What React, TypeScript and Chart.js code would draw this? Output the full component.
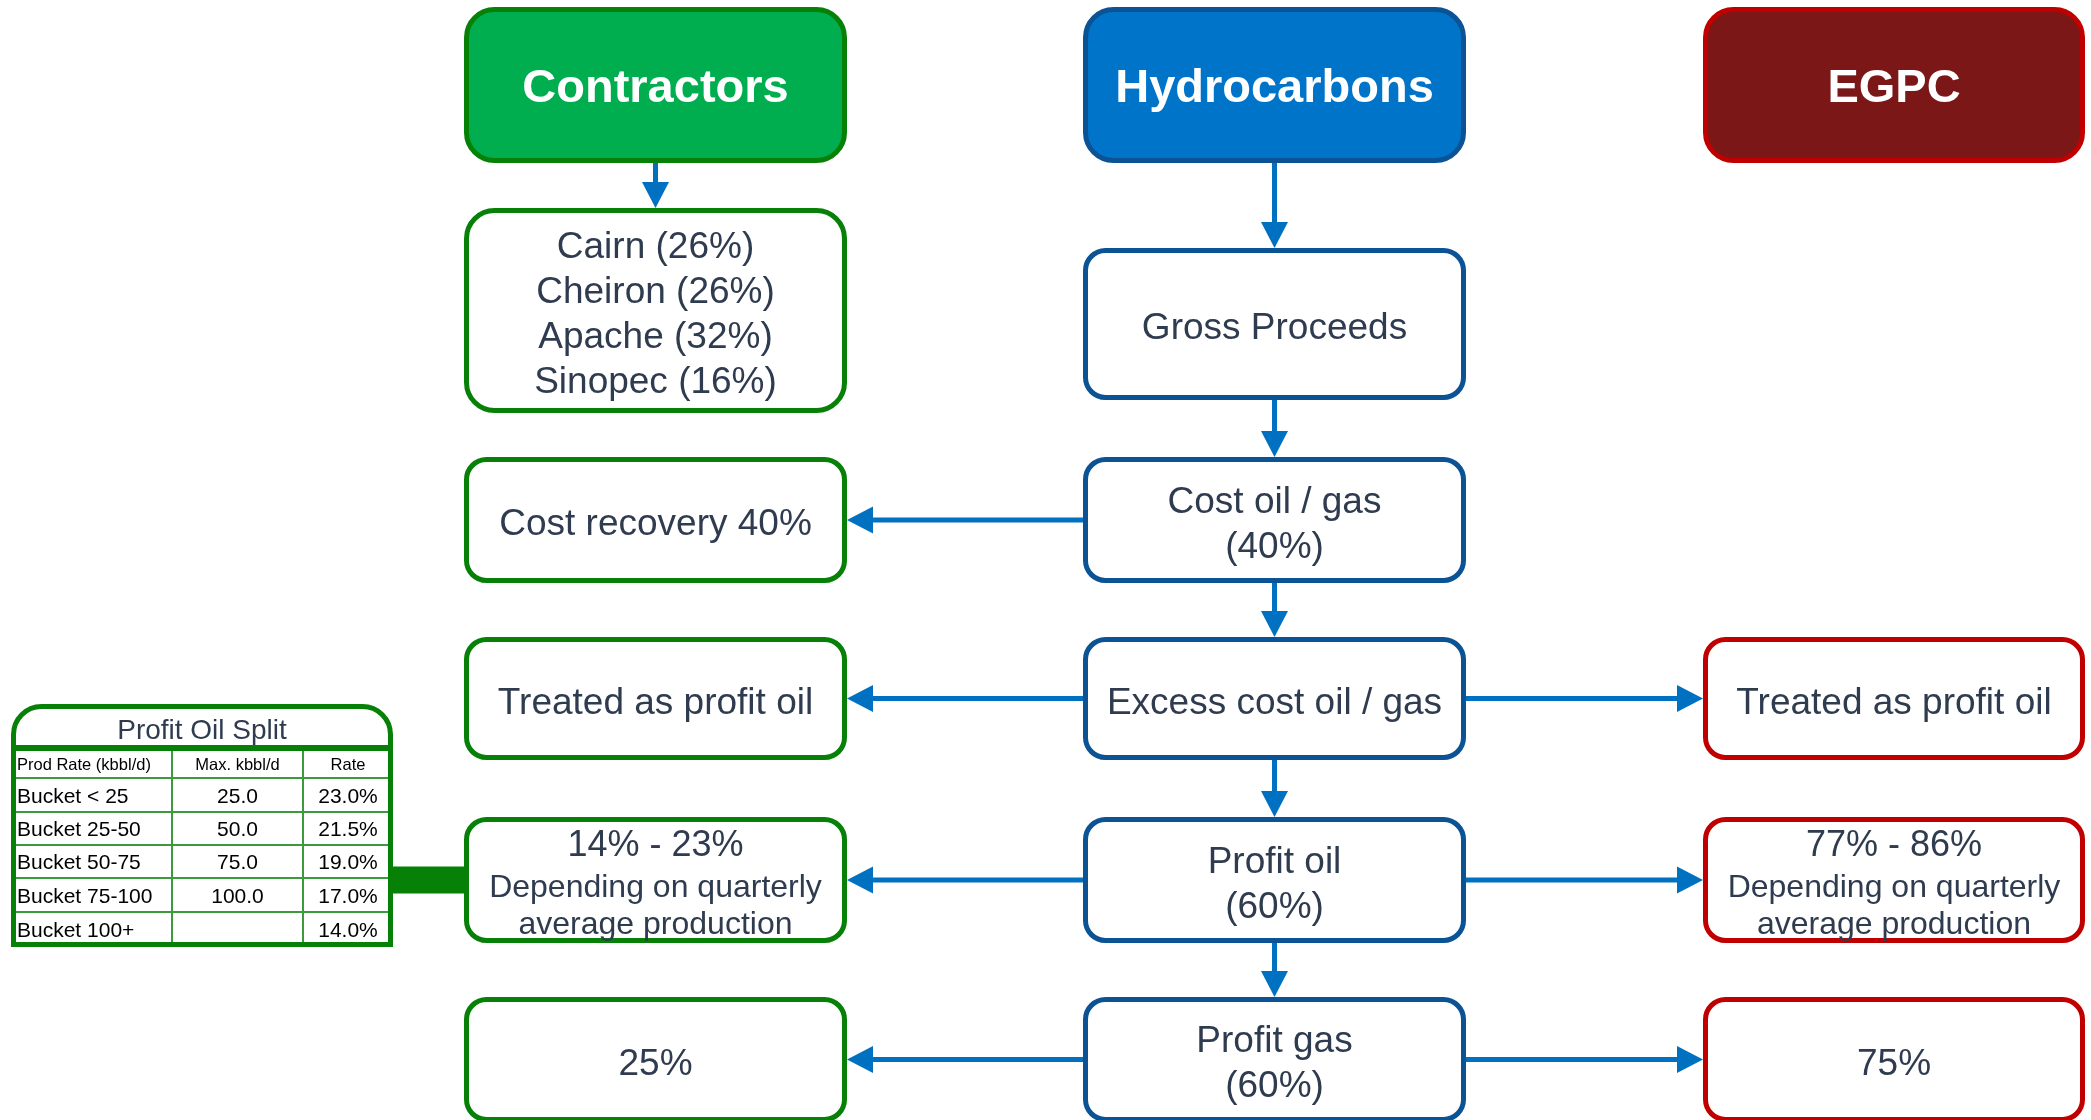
import React, { useEffect, useRef } from "react";
import { Chart, registerables } from "chart.js";

Chart.register(...registerables);

// ---------- content ----------
const headers = ["Contractors", "Hydrocarbons", "EGPC"];
const contractorShares = ["Cairn (26%)", "Cheiron (26%)", "Apache (32%)", "Sinopec (16%)"];
const flowSteps = [
  ["Gross Proceeds"],
  ["Cost oil / gas", "(40%)"],
  ["Excess cost oil / gas"],
  ["Profit oil", "(60%)"],
  ["Profit gas", "(60%)"],
];
const contractorTake = [
  ["Cost recovery 40%"],
  ["Treated as profit oil"],
  ["14% - 23%", "Depending on quarterly", "average production"],
  ["25%"],
];
const egpcTake = [
  ["Treated as profit oil"],
  ["77% - 86%", "Depending on quarterly", "average production"],
  ["75%"],
];
const splitTitle = "Profit Oil Split";
const splitColumns = ["Prod Rate (kbbl/d)", "Max. kbbl/d", "Rate"];
const bucketLabels = ["Bucket < 25", "Bucket 25-50", "Bucket 50-75", "Bucket 75-100", "Bucket 100+"];
const bucketMax: (number | null)[] = [25, 50, 75, 100, null];
const bucketRate = [23.0, 21.5, 19.0, 17.0, 14.0];

// ---------- layout (in scale units) ----------
const W = 2091;
const H = 1120;
const COLS = [
  [464, 847],
  [1083, 1466],
  [1703, 2085],
];
const HEAD_ROW = [7, 163];
const SHARE_ROW = [208, 413];
const FLOW_ROWS = [
  [248, 400],
  [457, 583],
  [637, 760],
  [817, 943],
  [997, 1122],
];
const CONTRACTOR_ROW_IDX = [1, 2, 3, 4];
const EGPC_ROW_IDX = [2, 3, 4];
const TABLE_X = [11, 172, 303, 393];
const TABLE_TOP = 704;
const TABLE_TITLE_SEP = 748;
const TABLE_ROWS = [778, 812, 845, 878, 912, 947];

// ---------- styles ----------
const FONT = '"Liberation Sans", Arial, Helvetica, sans-serif';
const TEXT = "#2F3B4F";
const ARROW = "#0070C0";
const GREEN_FILL = "#00AE4F";
const GREEN_LINE = "#078007";
const GREEN_GRID = "#3C9A3C";
const BLUE_FILL = "#0074C8";
const BLUE_LINE = "#0B5394";
const RED_FILL = "#7B1717";
const RED_LINE = "#C00000";
const TEXT_SHIFT = 2;

const headFills = [GREEN_FILL, BLUE_FILL, RED_FILL];
const colLines = [GREEN_LINE, BLUE_LINE, RED_LINE];

const flowPlugin = {
  id: "flowDiagram",
  afterDraw(chart: any) {
    const ctx: CanvasRenderingContext2D = chart.ctx;
    const sx = chart.scales.x;
    const sy = chart.scales.y;
    const X = (v: number) => sx.getPixelForValue(v);
    const Y = (v: number) => sy.getPixelForValue(v);

    const box = (
      x0: number, x1: number, y0: number, y1: number,
      r: number, fill: string, stroke: string, lw = 5
    ) => {
      const px = X(x0), py = Y(y0);
      const w = X(x1) - px, h = Y(y1) - py;
      ctx.save();
      ctx.beginPath();
      (ctx as any).roundRect(px + lw / 2, py + lw / 2, w - lw, h - lw, r);
      ctx.fillStyle = fill;
      ctx.fill();
      ctx.lineWidth = lw;
      ctx.strokeStyle = stroke;
      ctx.stroke();
      ctx.restore();
    };

    const arrow = (ax: number, ay: number, bx: number, by: number) => {
      const x1 = X(ax), y1 = Y(ay), x2 = X(bx), y2 = Y(by);
      const len = Math.hypot(x2 - x1, y2 - y1);
      const ux = (x2 - x1) / len, uy = (y2 - y1) / len;
      const hl = 26, hw = 13.5;
      ctx.save();
      ctx.strokeStyle = ARROW;
      ctx.fillStyle = ARROW;
      ctx.lineWidth = 5;
      ctx.beginPath();
      ctx.moveTo(x1, y1);
      ctx.lineTo(x2 - ux * hl, y2 - uy * hl);
      ctx.stroke();
      ctx.beginPath();
      ctx.moveTo(x2, y2);
      ctx.lineTo(x2 - ux * hl - uy * hw, y2 - uy * hl + ux * hw);
      ctx.lineTo(x2 - ux * hl + uy * hw, y2 - uy * hl - ux * hw);
      ctx.closePath();
      ctx.fill();
      ctx.restore();
    };

    const label = (
      lines: string[], cx: number, cy: number,
      sizes: number[], offsets: number[], color: string, bold = false
    ) => {
      ctx.save();
      ctx.fillStyle = color;
      ctx.textAlign = "center";
      ctx.textBaseline = "alphabetic";
      lines.forEach((t, i) => {
        const s = sizes[i];
        ctx.font = `${bold ? "bold " : ""}${s}px ${FONT}`;
        ctx.fillText(t, X(cx), Y(cy + offsets[i]) + 0.716 * s / 2);
      });
      ctx.restore();
    };

    const blockText = (lines: string[], cx: number, cy: number) => {
      const c = cy + TEXT_SHIFT;
      if (lines.length === 3) {
        label(lines, cx, c, [36, 32, 32], [-38.5, 3.5, 40.5], TEXT);
      } else {
        const n = lines.length;
        label(lines, cx, c, lines.map(() => 37), lines.map((_, i) => (i - (n - 1) / 2) * 45), TEXT);
      }
    };

    const cx = (c: number) => (COLS[c][0] + COLS[c][1]) / 2;
    const cy = (r: number[]) => (r[0] + r[1]) / 2;

    // headers
    headers.forEach((h, c) => {
      box(COLS[c][0], COLS[c][1], HEAD_ROW[0], HEAD_ROW[1], 28, headFills[c], colLines[c]);
      label([h], cx(c), cy(HEAD_ROW), [47], [0], "#FFFFFF", true);
    });

    // contractor shares
    box(COLS[0][0], COLS[0][1], SHARE_ROW[0], SHARE_ROW[1], 28, "#FFFFFF", GREEN_LINE);
    blockText(contractorShares, cx(0), cy(SHARE_ROW));

    // flow column
    flowSteps.forEach((lines, i) => {
      const r = FLOW_ROWS[i];
      box(COLS[1][0], COLS[1][1], r[0], r[1], 20, "#FFFFFF", BLUE_LINE);
      blockText(lines, cx(1), cy(r));
    });

    contractorTake.forEach((lines, i) => {
      const r = FLOW_ROWS[CONTRACTOR_ROW_IDX[i]];
      box(COLS[0][0], COLS[0][1], r[0], r[1], 20, "#FFFFFF", GREEN_LINE);
      blockText(lines, cx(0), cy(r));
    });

    egpcTake.forEach((lines, i) => {
      const r = FLOW_ROWS[EGPC_ROW_IDX[i]];
      box(COLS[2][0], COLS[2][1], r[0], r[1], 20, "#FFFFFF", RED_LINE);
      blockText(lines, cx(2), cy(r));
    });

    // vertical arrows
    arrow(cx(0), HEAD_ROW[1], cx(0), SHARE_ROW[0]);
    arrow(cx(1), HEAD_ROW[1], cx(1), FLOW_ROWS[0][0]);
    for (let i = 0; i < FLOW_ROWS.length - 1; i++) {
      arrow(cx(1), FLOW_ROWS[i][1], cx(1), FLOW_ROWS[i + 1][0]);
    }
    // horizontal arrows
    CONTRACTOR_ROW_IDX.forEach((ri) => {
      const y = cy(FLOW_ROWS[ri]);
      arrow(COLS[1][0], y, COLS[0][1], y);
    });
    EGPC_ROW_IDX.forEach((ri) => {
      const y = cy(FLOW_ROWS[ri]);
      arrow(COLS[1][1], y, COLS[2][0], y);
    });

    // ---- profit oil split table ----
    const tx0 = X(TABLE_X[0]), tx3 = X(TABLE_X[3]);
    const ty0 = Y(TABLE_TOP), tyB = Y(TABLE_ROWS[TABLE_ROWS.length - 1]);
    const lw = 5;
    // connector bar to contractor profit-oil box
    const rowOil = FLOW_ROWS[3];
    const barY = cy(rowOil);
    ctx.save();
    ctx.fillStyle = GREEN_LINE;
    ctx.fillRect(tx3 - 2, Y(barY - 13.5), X(COLS[0][0]) - tx3 + 4, Y(barY + 13.5) - Y(barY - 13.5));
    ctx.restore();

    const tablePath = () => {
      ctx.beginPath();
      (ctx as any).roundRect(tx0 + lw / 2, ty0 + lw / 2, tx3 - tx0 - lw, tyB - ty0 - lw, [28, 28, 0, 0]);
    };
    ctx.save();
    tablePath();
    ctx.fillStyle = "#FFFFFF";
    ctx.fill();
    // inner grid
    ctx.strokeStyle = GREEN_GRID;
    ctx.lineWidth = 2;
    for (let i = 0; i < TABLE_ROWS.length - 1; i++) {
      ctx.beginPath();
      ctx.moveTo(tx0, Y(TABLE_ROWS[i]));
      ctx.lineTo(tx3, Y(TABLE_ROWS[i]));
      ctx.stroke();
    }
    [TABLE_X[1], TABLE_X[2]].forEach((vx) => {
      ctx.beginPath();
      ctx.moveTo(X(vx), Y(TABLE_TITLE_SEP));
      ctx.lineTo(X(vx), tyB);
      ctx.stroke();
    });
    // title separator
    ctx.strokeStyle = GREEN_LINE;
    ctx.lineWidth = 6;
    ctx.beginPath();
    ctx.moveTo(tx0, Y(TABLE_TITLE_SEP));
    ctx.lineTo(tx3, Y(TABLE_TITLE_SEP));
    ctx.stroke();
    // outer border
    tablePath();
    ctx.lineWidth = lw;
    ctx.strokeStyle = GREEN_LINE;
    ctx.stroke();
    ctx.restore();

    // title
    label([splitTitle], (TABLE_X[0] + TABLE_X[3]) / 2, (TABLE_TOP + TABLE_TITLE_SEP) / 2 + 3, [28], [0], TEXT);

    // column headers
    const colC1 = (TABLE_X[1] + TABLE_X[2]) / 2;
    const colC2 = (TABLE_X[2] + TABLE_X[3]) / 2;
    const headCy = (TABLE_TITLE_SEP + TABLE_ROWS[0]) / 2 + 1;
    ctx.save();
    ctx.fillStyle = "#000000";
    ctx.textBaseline = "alphabetic";
    ctx.font = `16.5px ${FONT}`;
    ctx.textAlign = "left";
    ctx.fillText(splitColumns[0], X(TABLE_X[0] + 6), Y(headCy) + 0.716 * 17 / 2);
    ctx.textAlign = "center";
    ctx.fillText(splitColumns[1], X(colC1), Y(headCy) + 0.716 * 17 / 2);
    ctx.fillText(splitColumns[2], X(colC2), Y(headCy) + 0.716 * 17 / 2);

    ctx.font = `21px ${FONT}`;
    bucketLabels.forEach((b, i) => {
      const rc = (TABLE_ROWS[i] + TABLE_ROWS[i + 1]) / 2;
      const base = Y(rc) + 0.716 * 21 / 2;
      ctx.textAlign = "left";
      ctx.fillText(b, X(TABLE_X[0] + 6), base);
      ctx.textAlign = "center";
      const m = bucketMax[i];
      if (m !== null) ctx.fillText(m.toFixed(1), X(colC1), base);
      ctx.fillText(bucketRate[i].toFixed(1) + "%", X(colC2), base);
    });
    ctx.restore();
  },
};

export default function App() {
  const ref = useRef<HTMLCanvasElement | null>(null);

  useEffect(() => {
    document.body.style.margin = "0";
    const canvas = ref.current;
    if (!canvas) return;
    const chart = new Chart(canvas, {
      type: "scatter",
      data: { datasets: [{ data: [], pointRadius: 0 }] },
      options: {
        responsive: false,
        devicePixelRatio: 1,
        animation: false,
        layout: { padding: 0 },
        scales: {
          x: { type: "linear", min: 0, max: W, display: false },
          y: { type: "linear", min: 0, max: H, reverse: true, display: false },
        },
        plugins: { legend: { display: false }, tooltip: { enabled: false } },
      },
      plugins: [flowPlugin],
    } as any);
    return () => chart.destroy();
  }, []);

  return <canvas ref={ref} width={W} height={H} style={{ display: "block" }} />;
}
